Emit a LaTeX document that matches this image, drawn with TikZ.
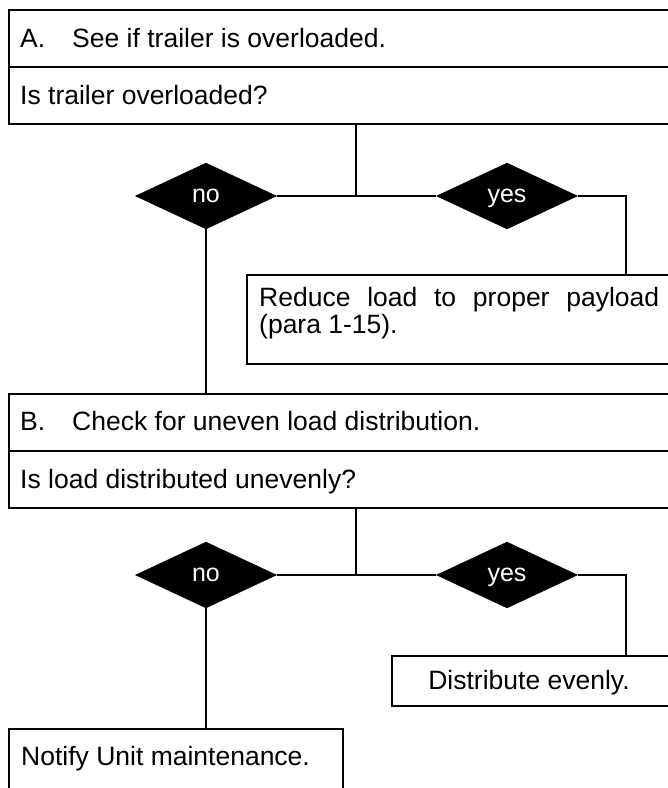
\documentclass[tikz,border=0pt]{standalone}
\usepackage{fontspec}
\setmainfont{Liberation Sans}
\usetikzlibrary{shapes.geometric}
\begin{document}
\begin{tikzpicture}[x=1pt,y=-1pt,
  box/.style={draw, line width=2.2pt, anchor=north west, inner sep=0pt},
  txt/.style={anchor=base west, inner sep=0pt, font=\fontsize{26.5}{30}\selectfont},
  dia/.style={diamond, fill=black, draw=black, minimum width=141pt, minimum height=66pt, inner sep=0pt, text=white, text depth=0pt, font=\fontsize{25}{28}\selectfont},
  conn/.style={line width=1.9pt}]
\useasboundingbox (0,0) rectangle (668,788);
\clip (0,0) rectangle (668,788);
\fill[white] (0,0) rectangle (668,788);
% Section A
\node[box, minimum width=720pt, minimum height=57pt] (A1) at (8,9) {};
\node[box, minimum width=720pt, minimum height=57pt] (A2) at (8,66) {};
\node[txt] (tA1) at (20,47) {A.\hspace{27pt}See if trailer is overloaded.};
\node[txt] (tA2) at (20,104.5) {Is trailer overloaded?};
\coordinate (j1) at (356,196);
\node[dia] (no1) at (206,196) {no};
\node[dia] (yes1) at (507,196) {yes};
\node[box, minimum width=460pt, minimum height=89pt] (R) at (246,274) {};
\node[txt] (tR1) at (259,306) {\makebox[400pt][s]{Reduce load to proper payload}};
\node[txt] (tR2) at (259,333) {(para 1-15).};
\coordinate (r1) at (626,274);
% Section B
\node[box, minimum width=720pt, minimum height=57pt] (B1) at (8,393) {};
\node[box, minimum width=720pt, minimum height=57pt] (B2) at (8,450) {};
\node[txt] (tB1) at (20,430) {B.\hspace{27pt}Check for uneven load distribution.};
\node[txt] (tB2) at (20,488) {Is load distributed unevenly?};
\coordinate (j2) at (356,575);
\node[dia] (no2) at (206,575) {no};
\node[dia] (yes2) at (507,575) {yes};
\node[box, minimum width=320pt, minimum height=50pt] (D) at (391,655) {};
\node[txt, anchor=base] (tD) at (529,689) {Distribute evenly.};
\coordinate (r2) at (626,655);
\node[box, minimum width=334pt, minimum height=80pt] (N) at (8,728) {};
\node[txt] (tN) at (21,765) {Notify Unit maintenance.};
% connectors
\draw[conn] (A2.south -| j1) -- (j1);
\draw[conn] (no1.east) -- (yes1.west);
\draw[conn] (yes1.east) -| (r1);
\draw[conn] (no1.south) -- (no1.south |- B1.north);
\draw[conn] (B2.south -| j2) -- (j2);
\draw[conn] (no2.east) -- (yes2.west);
\draw[conn] (yes2.east) -| (r2);
\draw[conn] (no2.south) -- (no2.south |- N.north);
\end{tikzpicture}
\end{document}
